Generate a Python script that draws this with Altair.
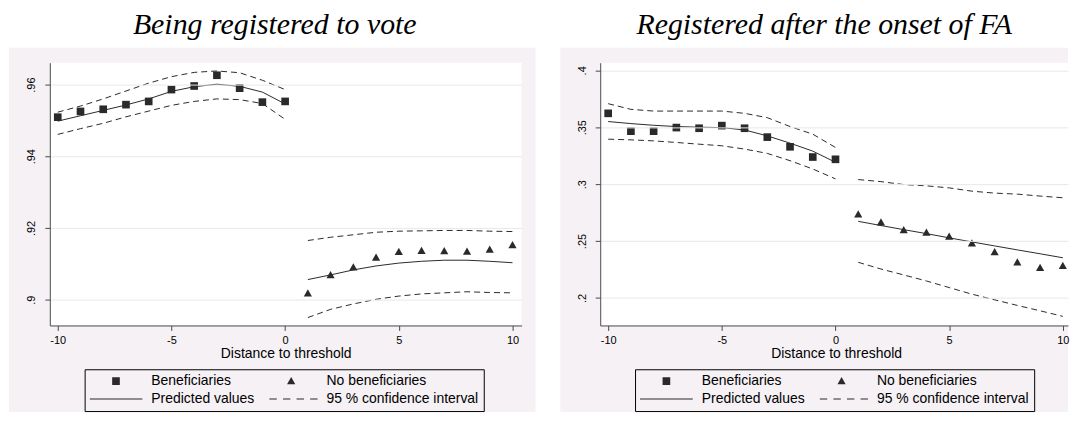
import altair as alt
import pandas as pd

# ---------------- data ----------------
x_benef = list(range(-10, 1))
x_nobenef = list(range(1, 11))

# Panel 1: Being registered to vote
reg_benef = [0.9509, 0.9525, 0.9531, 0.9544, 0.9553, 0.9586, 0.9596, 0.9626, 0.9590, 0.9551, 0.9553]
reg_pred_l = [0.9498, 0.9513, 0.9528, 0.9543, 0.9560, 0.9581, 0.9594, 0.9601, 0.9595, 0.9579, 0.9546]
reg_up_l = [0.9523, 0.9540, 0.9560, 0.9582, 0.9604, 0.9622, 0.9634, 0.9638, 0.9633, 0.9612, 0.9586]
reg_lo_l = [0.9461, 0.9477, 0.9492, 0.9510, 0.9526, 0.9542, 0.9553, 0.9560, 0.9558, 0.9547, 0.9503]
reg_nobenef = [0.9017, 0.9068, 0.9090, 0.9117, 0.9133, 0.9136, 0.9135, 0.9134, 0.9139, 0.9152]
reg_pred_r = [0.9056, 0.9069, 0.9083, 0.9094, 0.9102, 0.9107, 0.9110, 0.9110, 0.9107, 0.9103]
reg_up_r = [0.9165, 0.9174, 0.9181, 0.9188, 0.9191, 0.9192, 0.9193, 0.9193, 0.9191, 0.9190]
reg_lo_r = [0.8950, 0.8973, 0.8988, 0.9001, 0.9010, 0.9016, 0.9019, 0.9022, 0.9020, 0.9019]

# Panel 2: Registered after the onset of FA
fa_benef = [0.3622, 0.3465, 0.3465, 0.3497, 0.3491, 0.3514, 0.3491, 0.3413, 0.3328, 0.3238, 0.3218]
fa_pred_l = [0.3550, 0.3532, 0.3517, 0.3506, 0.3500, 0.3497, 0.3476, 0.3424, 0.3360, 0.3290, 0.3192]
fa_up_l = [0.3707, 0.3657, 0.3642, 0.3642, 0.3642, 0.3642, 0.3622, 0.3584, 0.3506, 0.3439, 0.3322]
fa_lo_l = [0.3395, 0.3389, 0.3380, 0.3366, 0.3351, 0.3337, 0.3308, 0.3270, 0.3206, 0.3133, 0.3046]
fa_nobenef = [0.2734, 0.2662, 0.2595, 0.2574, 0.2537, 0.2478, 0.2402, 0.2312, 0.2263, 0.2280]
fa_pred_r = [0.2673, 0.2636, 0.2600, 0.2565, 0.2528, 0.2492, 0.2457, 0.2422, 0.2388, 0.2353]
fa_up_r = [0.3040, 0.3022, 0.2996, 0.2985, 0.2967, 0.2938, 0.2921, 0.2912, 0.2895, 0.2880]
fa_lo_r = [0.2313, 0.2254, 0.2202, 0.2149, 0.2091, 0.2033, 0.1983, 0.1934, 0.1887, 0.1838]

titles = ["Being registered to vote", "Registered after the onset of FA"]
series = ["Beneficiaries", "No beneficiaries", "Predicted values", "95 % confidence interval"]
x_ticks = [-10, -5, 0, 5, 10]
reg_y_ticks = [0.9, 0.92, 0.94, 0.96]
fa_y_ticks = [0.2, 0.25, 0.3, 0.35, 0.4]

# ---------------- styling ----------------
LAV = "#f5f1f5"
INK = "#2a2a2a"
AXIS = "#4a4a4a"
SANS = "Liberation Sans"
H = 264
BG_BOTTOM = 351
SYM = 2809  # symbol box 53 px; shapes below are drawn inside it

SHAPES = [
    "M-0.145,-0.145H0.145V0.145H-0.145Z",                  # square marker
    "M0,-0.16L0.155,0.115L-0.155,0.115Z",                  # triangle marker
    "M-1,-0.019H1V0.019H-1Z",                               # solid line
    "M-1.34,-0.019H-1.06V0.019H-1.34Z M-0.825,-0.019H-0.545V0.019H-0.825Z "
    "M-0.31,-0.019H-0.03V0.019H-0.31Z M0.205,-0.019H0.485V0.019H0.205Z "
    "M0.72,-0.019H1V0.019H0.72Z",                           # dashed line
]


def panel(title, benef, pred_l, up_l, lo_l, nobenef, pred_r, up_r, lo_r,
          y_domain, y_ticks, width, x_max, bg_left, bg_right, title_dx):
    pts = pd.DataFrame({
        "x": x_benef + x_nobenef,
        "y": benef + nobenef,
        "series": [series[0]] * len(x_benef) + [series[1]] * len(x_nobenef),
    })
    pred_rows, ci_rows = [], []
    for grp, xs, ys, target in [
        ("pred_l", x_benef, pred_l, pred_rows),
        ("pred_r", x_nobenef, pred_r, pred_rows),
        ("up_l", x_benef, up_l, ci_rows),
        ("lo_l", x_benef, lo_l, ci_rows),
        ("up_r", x_nobenef, up_r, ci_rows),
        ("lo_r", x_nobenef, lo_r, ci_rows),
    ]:
        for xv, yv in zip(xs, ys):
            target.append({"x": xv, "y": yv, "grp": grp})
    pred = pd.DataFrame(pred_rows)
    ci = pd.DataFrame(ci_rows)
    legend_only = pd.DataFrame({"series": series[2:]})

    leg = alt.Legend(
        title=None, orient="none", legendX=35, legendY=308, columns=2,
        direction="horizontal", strokeColor="black", padding=5,
        rowPadding=4, columnPadding=10, clipHeight=14,
        labelFont=SANS, labelFontSize=14, labelColor="black", labelOffset=9,
        symbolSize=SYM, symbolStrokeWidth=0, symbolFillColor=INK,
        symbolOpacity=1, zindex=1,
    )
    shape_scale = alt.Scale(domain=series, range=SHAPES)

    xenc = alt.X("x:Q", scale=alt.Scale(domain=[-10.35, x_max], nice=False, zero=False),
                 axis=alt.Axis(values=x_ticks, labelExpr="toString(datum.value)",
                               title="Distance to threshold",
                               titleFont=SANS, titleFontSize=14, titleFontWeight="normal",
                               titleColor="black", titlePadding=1, titleX=237,
                               labelFont=SANS, labelFontSize=11, labelColor="black",
                               labelPadding=4, labelFlush=False, tickSize=5,
                               tickColor=AXIS, domainColor=AXIS, grid=False, zindex=1))
    yenc = alt.Y("y:Q", scale=alt.Scale(domain=y_domain, nice=False, zero=False),
                 axis=alt.Axis(values=y_ticks, labelExpr="slice(toString(datum.value), 1)",
                               labelAngle=270, labelAlign="center", labelBaseline="bottom",
                               labelPadding=8, labelFont=SANS, labelFontSize=11,
                               labelColor="black", labelFlush=False, tickSize=5,
                               tickColor=AXIS, domainColor=AXIS, grid=True,
                               gridColor="#e8e8e8", title=None, zindex=1))

    one = pd.DataFrame({"k": [0]})
    bg = alt.Chart(one).mark_rect(color=LAV).encode(
        x=alt.value(bg_left), x2=alt.value(bg_right), y=alt.value(-15), y2=alt.value(BG_BOTTOM))
    plotbg = alt.Chart(one).mark_rect(color="white").encode(
        x=alt.value(0), x2=alt.value(width), y=alt.value(0), y2=alt.value(H))

    pred_layer = alt.Chart(pred).mark_line(color=INK, strokeWidth=1).encode(
        x=xenc, y=yenc, detail="grp:N")
    ci_layer = alt.Chart(ci).mark_line(color=INK, strokeWidth=1, strokeDash=[6, 4]).encode(
        x=xenc, y=yenc, detail="grp:N")
    point_layer = alt.Chart(pts).mark_point(filled=True, color=INK, opacity=1,
                                            size=SYM, strokeWidth=0).encode(
        x=xenc, y=yenc,
        shape=alt.Shape("series:N", legend=leg, scale=shape_scale),
    )
    # invisible marks so that the line series show up in the same legend
    legend_layer = alt.Chart(legend_only).mark_point(filled=True, color=INK, opacity=0,
                                                     size=SYM, strokeWidth=0).encode(
        x=alt.value(0), y=alt.value(0),
        shape=alt.Shape("series:N", legend=leg, scale=shape_scale),
    )
    return alt.layer(bg, plotbg, pred_layer, ci_layer, point_layer, legend_layer).properties(
        width=width, height=H,
        title=alt.TitleParams(title, font="Liberation Serif", fontStyle="italic",
                              fontWeight="normal", fontSize=30, color="black",
                              anchor="middle", dx=title_dx, offset=8),
    )


p1 = panel(titles[0], reg_benef, reg_pred_l, reg_up_l, reg_lo_l,
           reg_nobenef, reg_pred_r, reg_up_r, reg_lo_r,
           [0.8928, 0.9661], reg_y_ticks, 474, 10.4, -41, 488, -11)
p2 = panel(titles[1], fa_benef, fa_pred_l, fa_up_l, fa_lo_l,
           fa_nobenef, fa_pred_r, fa_up_r, fa_lo_r,
           [0.1758, 0.4067], fa_y_ticks, 470, 10.228, -40, 470, -10)

chart = alt.hconcat(p1, p2, spacing=23).resolve_scale(
    x="independent", y="independent", shape="independent",
).resolve_legend(
    shape="independent",
).configure(padding=0, background="white").configure_view(stroke="transparent")

chart.save("out.html", embed_options={"renderer": "svg", "actions": False})
